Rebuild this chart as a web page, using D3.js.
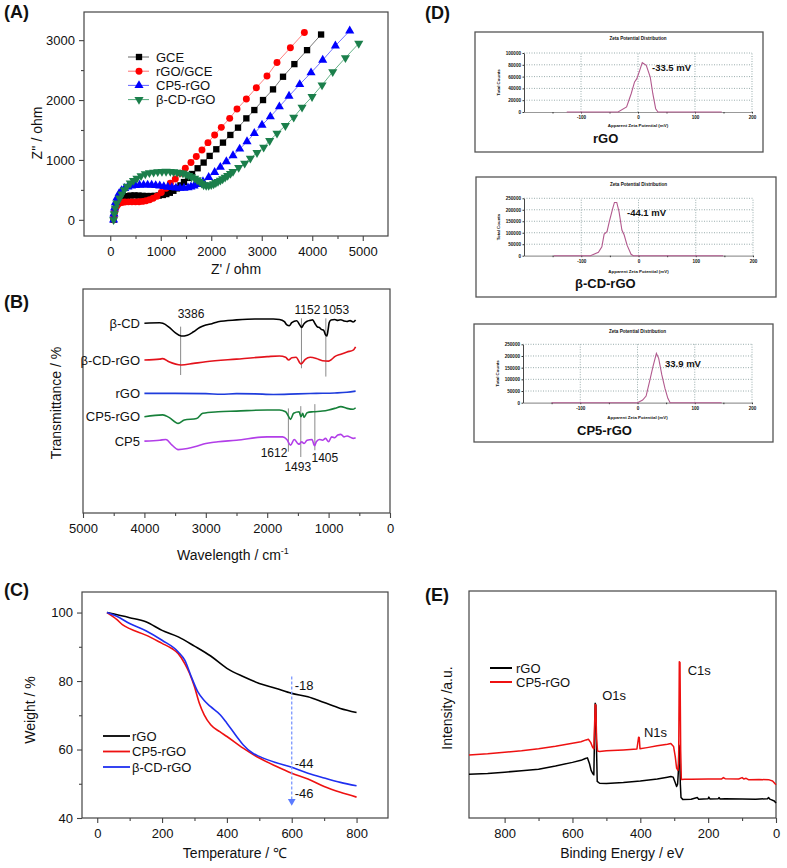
<!DOCTYPE html>
<html><head><meta charset="utf-8">
<script src="https://cdn.jsdelivr.net/npm/d3@7"></script>
<style>
body{margin:0;background:#fff}
svg text{font-family:"Liberation Sans",Arial,Helvetica,sans-serif;fill:#111}
</style>
</head><body>
<svg id="c" width="787" height="868"></svg>
<script>
// ---------------- Panel A: Nyquist (Z' , Z'') ----------------
const aNames = ["GCE", "rGO/GCE", "CP5-rGO", "β-CD-rGO"];
const aGCE = [[66,0],[75,80],[90,160],[115,240],[150,300],[200,345],[260,375],[330,395],[400,405],[480,408],[560,405],[640,400],[720,397],[800,397],[880,400],[960,405],[1040,415],[1110,430],[1180,452],[1250,485],[1320,525],[1390,575],[1460,630],[1540,700],[1620,765],[1730,861],[1849,956],[1968,1067],[2100,1178],[2232,1289],[2378,1417],[2530,1539],[2695,1694],[2853,1833],[3025,2000],[3223,2178],[3421,2389],[3646,2600],[3897,2833],[4175,3094]];
const aRGO = [[66,0],[75,70],[90,140],[110,200],[140,245],[180,275],[230,290],[290,298],[360,300],[430,300],[500,300],[570,302],[640,308],[710,318],[780,335],[850,360],[925,395],[1011,455],[1103,528],[1189,611],[1288,683],[1387,778],[1486,861],[1598,956],[1704,1056],[1816,1167],[1935,1289],[2067,1417],[2199,1544],[2365,1694],[2510,1850],[2695,2017],[2893,2206],[3104,2400],[3302,2628],[3567,2872],[3844,3128]];
const aCP5 = [[66,0],[72,100],[85,200],[105,290],[135,370],[175,440],[225,490],[285,525],[350,550],[420,565],[500,575],[580,580],[660,582],[740,582],[820,580],[900,575],[980,568],[1060,558],[1140,548],[1220,540],[1300,533],[1380,530],[1460,530],[1540,537],[1598,550],[1660,568],[1717,590],[1776,612],[1836,639],[1949,711],[2067,794],[2180,878],[2299,972],[2431,1072],[2563,1183],[2708,1306],[2853,1444],[3005,1583],[3170,1722],[3349,1889],[3540,2067],[3752,2261],[3976,2456],[4207,2667],[4458,2906],[4742,3156]];
const aCD = [[66,0],[80,100],[99,194],[130,280],[185,361],[230,430],[277,500],[335,560],[396,611],[460,655],[528,694],[610,735],[694,767],[775,785],[859,794],[940,802],[1024,806],[1105,807],[1189,806],[1255,800],[1321,794],[1380,785],[1440,778],[1500,760],[1552,739],[1610,717],[1671,694],[1720,665],[1770,639],[1810,610],[1849,583],[1900,575],[1949,572],[2000,585],[2047,600],[2090,620],[2133,639],[2180,660],[2226,683],[2275,710],[2325,739],[2380,772],[2431,806],[2543,872],[2662,944],[2774,1028],[2906,1122],[3038,1211],[3157,1322],[3302,1444],[3468,1572],[3633,1711],[3798,1878],[3996,2056],[4194,2250],[4406,2472],[4657,2706],[4921,2944]];
const aXTicks = [0,1000,2000,3000,4000,5000];
const aYTicks = [0,1000,2000,3000];

// ---------------- Panel B: FTIR ----------------
const bNames = ["β-CD", "β-CD-rGO", "rGO", "CP5-rGO", "CP5"];
const bCD = [[4000,84.7],[3750,84.9],[3700,84.7],[3600,83.0],[3500,80.5],[3400,79.0],[3300,79.4],[3200,80.9],[3100,82.8],[3000,83.9],[2900,84.5],[2800,85.4],[2500,86.2],[2200,86.6],[1900,86.6],[1800,86.4],[1720,85.4],[1680,84.0],[1640,83.6],[1600,85.0],[1520,85.8],[1470,84.0],[1440,82.8],[1400,84.5],[1350,85.6],[1300,86.0],[1260,86.2],[1220,84.5],[1180,83.0],[1150,82.8],[1120,82.0],[1080,81.5],[1050,79.5],[1030,79.0],[1010,81.5],[990,85.0],[960,86.2],[900,86.4],[850,86.0],[800,86.3],[750,85.7],[700,85.5],[650,85.9],[600,85.3],[560,86.2]];
const bCDrGO = [[4000,68.3],[3750,68.7],[3700,68.9],[3600,67.5],[3400,66.1],[3200,66.8],[3000,67.5],[2500,68.7],[2000,69.8],[1800,70.1],[1700,69.5],[1650,68.3],[1600,69.3],[1530,69.5],[1450,66.5],[1380,68.6],[1300,69.5],[1200,69.0],[1100,68.0],[1000,67.8],[950,68.6],[900,69.8],[800,70.9],[700,71.9],[600,72.7],[560,74.2]];
const bRGO = [[4000,53.4],[3500,53.4],[3000,53.3],[2750,53.0],[2500,53.3],[2200,53.2],[1900,52.9],[1500,53.2],[1200,53.4],[900,53.6],[700,53.9],[560,54.4]];
const bCP5rGO = [[4000,43.0],[3700,43.8],[3600,42.7],[3450,40.0],[3350,41.5],[3150,42.2],[3050,44.5],[2800,45.2],[2500,45.5],[2000,46.0],[1800,46.0],[1700,45.2],[1650,43.0],[1620,41.8],[1570,44.5],[1480,45.2],[1450,43.0],[1420,44.5],[1400,42.7],[1350,44.8],[1250,45.2],[1100,45.5],[1000,46.0],[900,46.7],[800,47.5],[700,46.7],[600,46.3],[560,47.0]];
const bCP5 = [[4000,32.1],[3750,32.5],[3650,32.8],[3550,30.3],[3450,28.3],[3300,28.8],[3150,29.8],[3000,31.0],[2900,31.5],[2800,31.8],[2500,32.5],[2000,34.0],[1750,34.0],[1680,32.8],[1620,30.3],[1560,32.8],[1500,31.0],[1480,30.7],[1440,31.8],[1400,31.0],[1350,32.5],[1270,32.8],[1230,30.0],[1200,31.8],[1150,32.8],[1100,32.5],[1050,33.3],[1000,31.8],[950,34.0],[900,33.6],[850,34.8],[800,35.1],[750,34.0],[700,34.4],[600,33.3],[560,33.6]];
const bPeaks = [
  {wn:3410, top:83.2, bottom:61.6, label:"3386"},
  {wn:1442, top:86.9, bottom:64.6, label:"1152"},
  {wn:1045, top:86.9, bottom:60.9, label:"1053"},
  {wn:1655, top:46.7, bottom:27.4, label:"1612"},
  {wn:1453, top:47.7, bottom:25.0, label:"1493"},
  {wn:1224, top:48.6, bottom:28.0, label:"1405"}
];
const bXTicks = [5000,4000,3000,2000,1000,0];

// ---------------- Panel C: TGA ----------------
const cNames = ["rGO", "CP5-rGO", "β-CD-rGO"];
const cRGO = [[30,100],[100,98.5],[150,97.3],[200,94.8],[250,92.9],[300,90.2],[350,87.3],[400,83.7],[450,81.3],[500,79.3],[550,77.9],[600,76.4],[650,75.4],[700,73.7],[750,72.0],[800,70.8]];
const cCP5 = [[30,100],[60,98],[80,96.3],[100,95.3],[150,93.4],[200,91],[230,89.5],[250,88],[270,85.1],[285,82.2],[300,78.3],[315,73.5],[330,70.1],[350,67.2],[378,65.2],[400,63.8],[450,60.4],[500,57.5],[550,55.2],[600,53.1],[650,51.4],[700,49.2],[750,47.5],[800,46.1]];
const cCD = [[30,100],[60,98.9],[100,96.8],[150,94.7],[200,91.9],[250,88.5],[270,86.1],[290,81.3],[310,76.9],[330,74.3],[350,72.5],[380,70.1],[400,67.7],[430,63.8],[450,61.4],[480,58.9],[500,58.0],[550,56.2],[600,54.8],[650,53.1],[700,51.7],[750,50.4],[800,49.4]];
const cArrow = {t:600, from:81.3, to:44.0};
const cLossLabels = [{v:"-18", y:78.6}, {v:"-44", y:56.0}, {v:"-46", y:47.3}];
const cXTicks = [0,200,400,600,800];
const cYTicks = [40,60,80,100];

// ---------------- Panel D: Zeta potential ----------------
const dNames = ["rGO", "β-CD-rGO", "CP5-rGO"];
const dValues = ["-33.5 mV", "-44.1 mV", "33.9 mV"];
const zetaRGO = [[-125,0],[-35,0],[-20,8500],[-12,31000],[-6,51000],[-2,56500],[3,70600],[7.5,83600],[14.5,79000],[21.5,59000],[26,31000],[31,5600],[35,0],[147,0]];
const zetaCD = [[-148,0],[-84,0],[-70,14500],[-64,39000],[-60,94000],[-55,105000],[-51,148000],[-45,206000],[-42,232000],[-38,232000],[-34,192000],[-29,112000],[-25,90000],[-20,46000],[-13,6000],[-9,0],[148,0]];
const zetaCP5 = [[-150,0],[0,0],[9,11400],[15,28600],[21,90000],[27,154000],[33,211000],[37,190000],[42.5,119000],[48,61000],[53,18600],[57,0],[147,0]];
const dYTicks1 = [0,20000,40000,60000,80000,100000];
const dYTicks2 = [0,50000,100000,150000,200000,250000];
const dXLabels = [-100,0,100,200];

// ---------------- Panel E: XPS ----------------
const eNames = ["rGO", "CP5-rGO"];
const eRGO = [[905,19.3],[850,19.6],[800,20.2],[750,20.8],[700,21.5],[650,22.9],[600,24.5],[575,25.4],[562,26.2],[556,26.5],[550,24.0],[545,21.0],[540,19.5],[537,19.0],[535,35],[533,50.5],[531,49.8],[529,30],[527,16.1],[520,15.3],[500,15.2],[450,15.6],[400,16.3],[350,17.2],[320,18.0],[310,18.3],[303,18.0],[298,16.0],[293,13.9],[290,15],[288,20],[286,32],[284,30],[282,15],[280,9.0],[275,8.2],[250,8.3],[232,9.0],[228,8.3],[200,8.5],[198,9.2],[195,8.4],[170,8.5],[168,9.0],[165,8.4],[150,8.5],[100,8.4],[60,8.3],[25,8.5],[22,9.0],[18,8.3],[5,7.5],[0,6.6]];
const eCP5 = [[905,27.8],[850,28.3],[800,29.0],[750,29.6],[700,30.5],[650,31.6],[600,32.9],[575,33.6],[560,34.4],[553,34.7],[546,33.2],[541,31.3],[537,30.5],[535,40],[533,50.0],[531,49.5],[529,35],[526,29.5],[520,29.3],[500,29.6],[450,30.0],[410,30.4],[405,35.6],[403,35.4],[401,30.5],[380,31.0],[350,31.8],[320,32.5],[310,32.8],[302,31.5],[297,27],[293,22],[289,21],[287,24],[285,68.8],[283,68.5],[281,30],[279,17.0],[270,17.1],[250,17.1],[200,17.2],[160,17.2],[155,17.8],[150,17.3],[110,17.2],[100,17.8],[95,17.2],[88,17.5],[80,16.8],[50,17.0],[20,16.8],[10,16.3],[0,14.6]];
const ePeaks = [{name:"O1s", be:533, v:50.5}, {name:"N1s", be:404, v:35.6}, {name:"C1s", be:284, v:68.8}];
const eXTicks = [800,600,400,200,0];

// ================= drawing =================
const svg = d3.select("#c");
const AX = "#444";
const FS = 13;

function frame(x, y){
  const [x0,x1] = x.range(), [y0,y1] = y.range();
  svg.append("rect").attr("x",Math.min(x0,x1)).attr("y",Math.min(y0,y1))
    .attr("width",Math.abs(x1-x0)).attr("height",Math.abs(y1-y0))
    .attr("fill","none").attr("stroke",AX).attr("stroke-width",1.2);
}
function styleAxis(g, fs){
  g.select(".domain").remove();
  g.selectAll(".tick line").attr("stroke",AX).attr("stroke-width",1.1);
  g.selectAll("text").attr("font-size",fs).attr("fill","#111").attr("font-family",'"Liberation Sans",Arial,sans-serif');
}
function bottomAxis(x, y, majors, minors, showLabels=true){
  const y0 = y.range()[0];
  const g = svg.append("g").attr("transform",`translate(0,${y0})`)
    .call(d3.axisBottom(x).tickValues(majors).tickSize(5).tickPadding(6).tickSizeOuter(0)
      .tickFormat(showLabels ? d3.format("d") : ""));
  styleAxis(g, FS);
  if(minors){
    const g2 = svg.append("g").attr("transform",`translate(0,${y0})`)
      .call(d3.axisBottom(x).tickValues(minors).tickSize(3).tickFormat("").tickSizeOuter(0));
    styleAxis(g2, FS);
  }
}
function leftAxis(x, y, majors, minors){
  const x0 = x.range()[0];
  const g = svg.append("g").attr("transform",`translate(${x0},0)`)
    .call(d3.axisLeft(y).tickValues(majors).tickSize(5).tickPadding(4).tickSizeOuter(0).tickFormat(d3.format("d")));
  styleAxis(g, FS);
  if(minors){
    const g2 = svg.append("g").attr("transform",`translate(${x0},0)`)
      .call(d3.axisLeft(y).tickValues(minors).tickSize(3).tickFormat("").tickSizeOuter(0));
    styleAxis(g2, FS);
  }
}
function label(txt, x, y, opts={}){
  const t = svg.append("text").attr("x",x).attr("y",y).text(txt)
    .attr("font-size",opts.size||FS).attr("text-anchor",opts.anchor||"start");
  if(opts.bold) t.attr("font-weight","bold");
  if(opts.rotate) t.attr("transform",`rotate(-90,${x},${y})`);
  if(opts.fill) t.attr("fill",opts.fill);
  return t;
}
function panelLabel(txt, x, y){ label(txt, x, y, {size:18, bold:true}); }

// ---------- A ----------
const aX = d3.scaleLinear().domain([-520,5500]).range([84,388]);
const aY = d3.scaleLinear().domain([-270,3470]).range([236,12]);
const aColors = ["#000000","#ff0000","#0000ff","#1b7f4b"];
const aLineColors = ["#555555","#ff6060","#5050ff","#3f9f6b"];
const aSymbols = [d3.symbolSquare, d3.symbolCircle, d3.symbolTriangle, d3.symbolTriangle];
const aRot = [0,0,0,180];
const aSizes = [40, 38, 36, 36];
const aSeries = [aGCE, aRGO, aCP5, aCD];
frame(aX,aY);
bottomAxis(aX, aY, aXTicks, [500,1500,2500,3500,4500]);
leftAxis(aX, aY, aYTicks, [500,1500,2500]);
aSeries.forEach((s,i)=>{
  svg.append("path").datum(s).attr("fill","none").attr("stroke",aLineColors[i]).attr("stroke-width",0.8)
    .attr("d", d3.line().x(d=>aX(d[0])).y(d=>aY(d[1])));
});
aSeries.forEach((s,i)=>{
  svg.append("g").selectAll("path").data(s).join("path")
    .attr("d", d3.symbol().type(aSymbols[i]).size(aSizes[i]))
    .attr("transform", d=>`translate(${aX(d[0])},${aY(d[1])}) rotate(${aRot[i]})`)
    .attr("fill", aColors[i]);
});
aNames.forEach((n,i)=>{
  const yy = 57 + i*14.2;
  svg.append("line").attr("x1",128).attr("x2",149).attr("y1",yy).attr("y2",yy).attr("stroke",aLineColors[i]).attr("stroke-width",0.9);
  svg.append("path").attr("d", d3.symbol().type(aSymbols[i]).size(aSizes[i]))
    .attr("transform",`translate(139,${yy}) rotate(${aRot[i]})`).attr("fill",aColors[i]);
  label(n, 156, yy+4.5);
});
label("Z' / ohm", 236, 274, {anchor:"middle", size:14});
label("Z'' / ohm", 42, 133, {anchor:"middle", size:14, rotate:true});
panelLabel("(A)", 4, 18);

// ---------- B ----------
const bX = d3.scaleLinear().domain([5000,0]).range([83,390]);
const bY = d3.scaleLinear().domain([0,100]).range([513,289]);
const bColors = ["#000000","#e3121b","#1f3ddc","#17803a","#b23ee8"];
const bSeries = [bCD, bCDrGO, bRGO, bCP5rGO, bCP5];
frame(bX,bY);
bottomAxis(bX, bY, bXTicks, [4500,3500,2500,1500,500]);
bPeaks.forEach(p=>{
  svg.append("line").attr("x1",bX(p.wn)).attr("x2",bX(p.wn)).attr("y1",bY(p.top)).attr("y2",bY(p.bottom))
    .attr("stroke","#8a8a8a").attr("stroke-width",1);
});
bSeries.forEach((s,i)=>{
  svg.append("path").datum(s).attr("fill","none").attr("stroke",bColors[i]).attr("stroke-width",1.6)
    .attr("stroke-linejoin","round")
    .attr("d", d3.line().curve(d3.curveMonotoneX).x(d=>bX(d[0])).y(d=>bY(d[1])));
  label(bNames[i], 140, bY(s[0][1])+4.5, {anchor:"end"});
});
// peak labels
const PL = 12;
label(bPeaks[0].label, bX(bPeaks[0].wn)-3, 318, {size:PL});
label(bPeaks[1].label, bX(bPeaks[1].wn)+6, 314, {anchor:"middle", size:PL});
label(bPeaks[2].label, bX(bPeaks[2].wn)+10, 314, {anchor:"middle", size:PL});
label(bPeaks[3].label, bX(bPeaks[3].wn)-1, 457, {anchor:"end", size:PL});
label(bPeaks[4].label, bX(bPeaks[4].wn)-3, 471, {anchor:"middle", size:PL});
label(bPeaks[5].label, bX(bPeaks[5].wn)+10, 462, {anchor:"middle", size:PL});
const bt = label("Wavelength / cm", 233, 560, {anchor:"middle", size:14});
bt.append("tspan").text("-1").attr("font-size",9).attr("dy",-6);
label("Transmittance / %", 61, 403, {anchor:"middle", size:14, rotate:true});
panelLabel("(B)", 4, 308);

// ---------- C ----------
const cX = d3.scaleLinear().domain([-47,897]).range([82,388]);
const cY = d3.scaleLinear().domain([40,106]).range([818,592]);
const cColors = ["#000000","#ee1111","#1f2ff0"];
const cSeries = [cRGO, cCP5, cCD];
frame(cX,cY);
bottomAxis(cX, cY, cXTicks, [100,300,500,700]);
leftAxis(cX, cY, cYTicks, [50,70,90]);
cSeries.forEach((s,i)=>{
  svg.append("path").datum(s).attr("fill","none").attr("stroke",cColors[i]).attr("stroke-width",1.6)
    .attr("d", d3.line().curve(d3.curveMonotoneX).x(d=>cX(d[0])).y(d=>cY(d[1])));
});
svg.append("line").attr("x1",cX(cArrow.t)).attr("x2",cX(cArrow.t)).attr("y1",cY(cArrow.from)).attr("y2",cY(cArrow.to)-5)
  .attr("stroke","#7b97ff").attr("stroke-width",1.3).attr("stroke-dasharray","3,2");
svg.append("path").attr("d", d3.symbol().type(d3.symbolTriangle).size(26))
  .attr("transform",`translate(${cX(cArrow.t)},${cY(cArrow.to)-3}) rotate(180)`).attr("fill","#5b7bff");
cLossLabels.forEach(l=> label(l.v, cX(cArrow.t)+3, cY(l.y)+4.5));
cNames.forEach((n,i)=>{
  const yy = 736 + i*15.5;
  svg.append("line").attr("x1",103).attr("x2",130).attr("y1",yy).attr("y2",yy).attr("stroke",cColors[i]).attr("stroke-width",1.8);
  label(n, 132, yy+4.5);
});
label("Temperature / ℃", 235, 858, {anchor:"middle", size:14});
label("Weight / %", 35, 710, {anchor:"middle", size:14, rotate:true});
panelLabel("(C)", 4, 596);

// ---------- D ----------
panelLabel("(D)", 425, 19);
const dBoxes = [
  {box:[475,32,763,152], xr:[524,752], yr:[112,53], ymax:100000, ticks:dYTicks1, data:zetaRGO, title:40, xlab:127, val:[652,71], name:[593,143]},
  {box:[476,177,776,297], xr:[524,753], yr:[255.7,198.3], ymax:250000, ticks:dYTicks2, data:zetaCD, title:186, xlab:273, val:[627,216], name:[575,288]},
  {box:[474,324,773,442], xr:[523,752], yr:[402.7,344.3], ymax:250000, ticks:dYTicks2, data:zetaCP5, title:333, xlab:419, val:[665,367], name:[577,435]}
];
dBoxes.forEach((b,i)=>{
  svg.append("rect").attr("x",b.box[0]).attr("y",b.box[1]).attr("width",b.box[2]-b.box[0]).attr("height",b.box[3]-b.box[1])
    .attr("fill","#fff").attr("stroke","#555").attr("stroke-width",1.3);
  const x = d3.scaleLinear().domain([-200,200]).range(b.xr);
  const y = d3.scaleLinear().domain([0,b.ymax]).range(b.yr);
  svg.append("g").selectAll("line").data(b.ticks.slice(1)).join("line")
    .attr("x1",b.xr[0]).attr("x2",b.xr[1]).attr("y1",d=>y(d)).attr("y2",d=>y(d))
    .attr("stroke","#6f8a8a").attr("stroke-width",0.7).attr("stroke-dasharray","1,1.5");
  svg.append("g").selectAll("line").data(dXLabels).join("line")
    .attr("x1",d=>x(d)).attr("x2",d=>x(d)).attr("y1",b.yr[0]).attr("y2",b.yr[1])
    .attr("stroke","#6f8a8a").attr("stroke-width",0.7).attr("stroke-dasharray","1,1.5");
  const gx = svg.append("g").attr("transform",`translate(0,${b.yr[0]})`)
    .call(d3.axisBottom(x).tickValues(d3.range(-150,201,50)).tickSize(1.5).tickPadding(2.5).tickSizeOuter(0)
      .tickFormat(d=> dXLabels.includes(d) ? d : ""));
  gx.select(".domain").attr("stroke","#999").attr("stroke-width",1.2);
  gx.selectAll(".tick line").attr("stroke","#333");
  gx.selectAll("text").attr("font-size",4.6).attr("font-weight","bold").attr("fill","#222");
  const gy = svg.append("g").attr("transform",`translate(${b.xr[0]},0)`)
    .call(d3.axisLeft(y).tickValues(b.ticks).tickSize(1.5).tickPadding(1.5).tickSizeOuter(0).tickFormat(d3.format("d")));
  gy.select(".domain").attr("stroke","#333").attr("stroke-width",0.9);
  gy.selectAll(".tick line").attr("stroke","#333");
  gy.selectAll("text").attr("font-size",4.6).attr("font-weight","bold").attr("fill","#222");
  svg.append("path").datum(b.data).attr("fill","none").attr("stroke","#b25a8e").attr("stroke-width",1.1)
    .attr("d", d3.line().x(d=>x(d[0])).y(d=>y(d[1])));
  label("Zeta Potential Distribution", (b.xr[0]+b.xr[1])/2, b.title, {anchor:"middle", size:4.6, bold:true});
  label("Apparent Zeta Potential (mV)", (b.xr[0]+b.xr[1])/2, b.xlab, {anchor:"middle", size:4.4, bold:true});
  label("Total Counts", b.xr[0]-24, (b.yr[0]+b.yr[1])/2, {anchor:"middle", size:4.4, bold:true, rotate:true});
  label(dValues[i], b.val[0], b.val[1], {size:9.5, bold:true});
  label(dNames[i], b.name[0], b.name[1], {size:13, bold:true});
});

// ---------- E ----------
const eX = d3.scaleLinear().domain([905,0]).range([469,776]);
const eY = d3.scaleLinear().domain([0,100]).range([818,591]);
const eColors = ["#000000","#ee1111"];
frame(eX,eY);
bottomAxis(eX, eY, eXTicks, [700,500,300,100]);
[eRGO, eCP5].forEach((s,i)=>{
  svg.append("path").datum(s).attr("fill","none").attr("stroke",eColors[i]).attr("stroke-width",1.5)
    .attr("stroke-linejoin","round")
    .attr("d", d3.line().x(d=>eX(d[0])).y(d=>eY(d[1])));
});
label(ePeaks[0].name, eX(ePeaks[0].be)+ 7, 700);
label(ePeaks[1].name, eX(ePeaks[1].be)+ 5, 737);
label(ePeaks[2].name, eX(ePeaks[2].be)+ 8, 675);
eNames.forEach((n,i)=>{
  const yy = 668 + i*14;
  svg.append("line").attr("x1",490).attr("x2",512).attr("y1",yy).attr("y2",yy).attr("stroke",eColors[i]).attr("stroke-width",2);
  label(n, 516, yy+4.5);
});
label("Binding Energy / eV", 622, 858, {anchor:"middle", size:14});
label("Intensity /a.u.", 452, 708, {anchor:"middle", size:14, rotate:true});
panelLabel("(E)", 425, 601);
</script>
</body></html>
